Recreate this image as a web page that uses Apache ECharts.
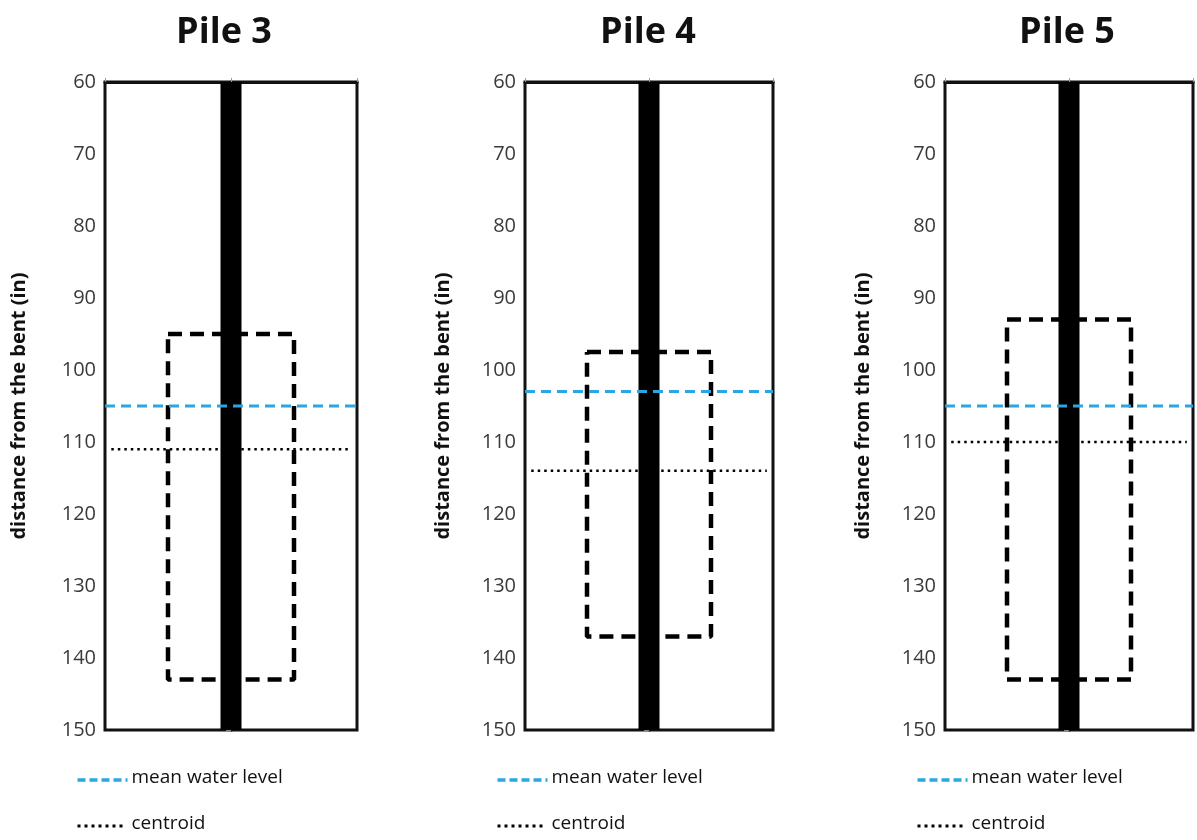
<!DOCTYPE html>
<html>
<head>
<meta charset="utf-8">
<script src="https://cdn.jsdelivr.net/npm/echarts@6/dist/echarts.min.js"></script>
<style>
  html, body { margin: 0; padding: 0; background: #fff; }
  #main { width: 1197px; height: 840px; }
</style>
</head>
<body>
<div id="main"></div>
<script>
// 三根桩的数据（单位 in）
var piles = ['Pile 3', 'Pile 4', 'Pile 5'];
var rectTop = [95, 97.5, 93];
var rectBottom = [143, 137, 143];
var rectHalf = [0.5, 0.5, 0.5];
var meanWater = [105, 103, 105];
var centroid = [111, 114, 110];
var yTicks = [60, 150, 10]; // min, max, interval
var legendNames = ['mean water level', 'centroid'];

var chart = echarts.init(document.getElementById('main'));

var lefts = [105, 525, 945];
var widths = [252, 248, 248];
var titleX = [219, 643, 1062];
var font = '"Open Sans", "Liberation Sans", sans-serif';
var blue = '#2ba6e1';

var grids = [], xAxes = [], yAxes = [], series = [], titles = [], graphics = [];

for (var i = 0; i < 3; i++) {
    grids.push({
        left: lefts[i], top: 82, width: widths[i], height: 648,
        show: true, borderColor: '#111', borderWidth: 3, backgroundColor: '#fff'
    });
    titles.push({
        text: piles[i],
        left: titleX[i], top: 10, textAlign: 'center',
        textStyle: { fontSize: 36, fontWeight: 'bold', color: '#111', fontFamily: font }
    });
    xAxes.push({
        gridIndex: i, type: 'value', min: -1, max: 1, interval: 1,
        position: 'top',
        axisLine: { show: true, lineStyle: { color: '#111', width: 3 } },
        axisTick: { show: true, length: 4, lineStyle: { color: '#999' } },
        axisLabel: { show: false },
        splitLine: { show: false }
    });
    yAxes.push({
        gridIndex: i, type: 'value', inverse: true,
        min: yTicks[0], max: yTicks[1], interval: yTicks[2],
        name: 'distance from the bent (in)',
        nameLocation: 'middle', nameRotate: 90, nameGap: i == 0 ? 76 : 72,
        nameTextStyle: { fontSize: 20, fontWeight: 'bold', color: '#111', fontFamily: font },
        axisLine: { show: true, lineStyle: { color: '#111', width: 3 } },
        axisTick: { show: true, length: 5, lineStyle: { color: '#888' } },
        axisLabel: { fontSize: 20, color: '#3a3a3a', margin: 9, fontFamily: font },
        splitLine: { show: false }
    });
    // 桩身
    series.push({
        type: 'line', xAxisIndex: i, yAxisIndex: i, symbol: 'none', silent: true,
        data: [[0, yTicks[0]], [0, yTicks[1]]],
        lineStyle: { color: '#000', width: 21, cap: 'butt' }, z: 3
    });
    // 虚线矩形
    series.push({
        type: 'line', xAxisIndex: i, yAxisIndex: i, symbol: 'none', silent: true,
        data: [[-rectHalf[i], rectTop[i]], [rectHalf[i], rectTop[i]], [rectHalf[i], rectBottom[i]],
               [-rectHalf[i], rectBottom[i]], [-rectHalf[i], rectTop[i]]],
        lineStyle: { color: '#000', width: 4.5, type: [14, 8] }, z: 2
    });
    series.push({
        name: legendNames[0],
        type: 'line', xAxisIndex: i, yAxisIndex: i, symbol: 'none',
        data: [[-1, meanWater[i]], [1, meanWater[i]]],
        lineStyle: { color: blue, width: 3, type: [10, 6] }, z: 4
    });
    series.push({
        name: legendNames[1],
        type: 'line', xAxisIndex: i, yAxisIndex: i, symbol: 'none',
        data: [[-0.95, centroid[i]], [0.95, centroid[i]]],
        lineStyle: { color: '#000', width: 2.5, type: [2.5, 4] }, z: 4
    });
    // 图例
    graphics.push({
        type: 'group', left: lefts[i] - 30, top: 768,
        children: [
            { type: 'line', shape: { x1: 0, y1: 12, x2: 50, y2: 12 },
              style: { stroke: blue, lineWidth: 3.5, lineDash: [8, 4] } },
            { type: 'text', x: 54, y: 0,
              style: { text: legendNames[0], fontSize: 19, fill: '#111', fontFamily: font } },
            { type: 'line', shape: { x1: 0, y1: 58, x2: 48, y2: 58 },
              style: { stroke: '#000', lineWidth: 3, lineDash: [3, 4] } },
            { type: 'text', x: 54, y: 46,
              style: { text: legendNames[1], fontSize: 19, fill: '#111', fontFamily: font } }
        ]
    });
}

var option = {
    backgroundColor: '#fff',
    animation: false,
    title: titles,
    grid: grids,
    xAxis: xAxes,
    yAxis: yAxes,
    graphic: graphics,
    series: series
};
chart.setOption(option);
</script>
</body>
</html>
